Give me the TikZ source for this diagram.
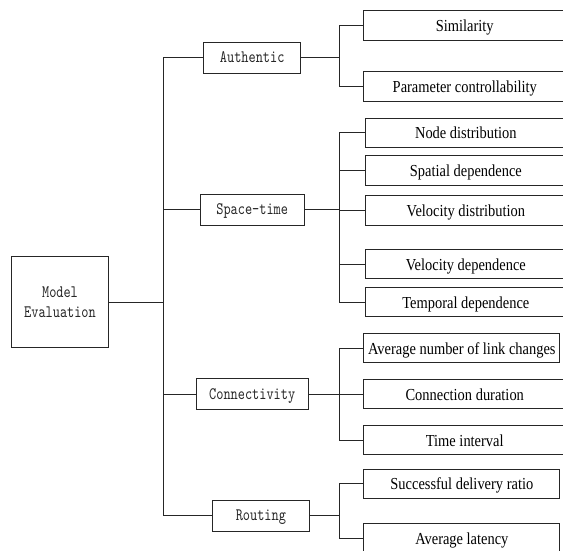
\documentclass[tikz,border=0pt]{standalone}
\usepackage{fontspec}
\newfontfamily\leafserif[FakeStretch=0.86]{Liberation Serif}
\newfontfamily\simmono[FakeStretch=0.78]{lmmono10-regular.otf}
\begin{document}
\begin{tikzpicture}[x=1pt,y=-1pt,
  line width=0.9pt, draw=black!85,
  monotext/.style={font=\simmono\fontsize{17.5}{20}\selectfont, text=black!85},
  catbox/.style={draw, monotext, inner sep=0pt, minimum height=30.7pt, text height=10pt, text depth=0pt},
  rootbox/.style={draw, monotext, inner sep=0pt, align=center},
  leafbox/.style={draw, inner sep=0pt, minimum height=29.3pt, minimum width=201.8pt, anchor=west,
    font=\leafserif\fontsize{16.8}{18}\selectfont, text height=12pt, text depth=0pt},
  leafnar/.style={leafbox, minimum width=196pt}]
\useasboundingbox (0,0) rectangle (563,550);
\clip (0,0) rectangle (563,550);
% root
\node[rootbox, minimum width=97pt, minimum height=90.6pt] (me) at (60,302) {Model\\Evaluation};
% categories
\node[catbox, minimum width=97.3pt] (auth) at (252.2,57.7) {Authentic};
\node[catbox, minimum width=104.5pt] (st) at (252.2,209.7) {Space-time};
\node[catbox, minimum width=111.6pt] (conn) at (252.2,394) {Connectivity};
\node[catbox, minimum width=97.3pt] (rout) at (260.9,515.8) {Routing};
% leaves
\node[leafbox] (sim) at (363.4,25.3) {Similarity};
\node[leafbox] (par) at (363.4,86.3) {Parameter controllability};
\node[leafbox] (nd) at (364.5,132.7) {Node distribution};
\node[leafbox] (sd) at (364.5,170.3) {Spatial dependence};
\node[leafbox] (vd) at (364.5,210.5) {Velocity distribution};
\node[leafbox] (vdep) at (364.5,264) {Velocity dependence};
\node[leafbox] (td) at (364.5,302) {Temporal dependence};
\node[leafnar] (anl) at (363.4,348) {Average number of link changes};
\node[leafbox] (cd) at (363.4,394) {Connection duration};
\node[leafbox] (ti) at (363.4,440) {Time interval};
\node[leafnar] (sdr) at (363.4,483.7) {Successful delivery ratio};
\node[leafnar] (al) at (363.4,538) {Average latency};
% junction columns
\coordinate (t) at (163.7,0);
\coordinate (b) at (339,0);
% trunk
\draw (me.east) -- (me.east -| t);
\draw (auth.west) -- (auth.west -| t) -- (rout.west -| t) -- (rout.west);
\draw (st.west) -- (st.west -| t);
\draw (conn.west) -- (conn.west -| t);
% Authentic
\draw (auth.east) -- (auth.east -| b);
\draw (sim.west) -- (sim.west -| b) -- (par.west -| b) -- (par.west);
% Space-time
\draw (st.east) -- (st.east -| b);
\draw (nd.west) -- (nd.west -| b) -- (td.west -| b) -- (td.west);
\draw (sd.west) -- (sd.west -| b);
\draw (vd.west) -- (vd.west -| b);
\draw (vdep.west) -- (vdep.west -| b);
% Connectivity
\draw (conn.east) -- (conn.east -| b);
\draw (anl.west) -- (anl.west -| b) -- (ti.west -| b) -- (ti.west);
\draw (cd.west) -- (cd.west -| b);
% Routing
\draw (rout.east) -- (rout.east -| b);
\draw (sdr.west) -- (sdr.west -| b) -- (al.west -| b) -- (al.west);
\end{tikzpicture}
\end{document}
